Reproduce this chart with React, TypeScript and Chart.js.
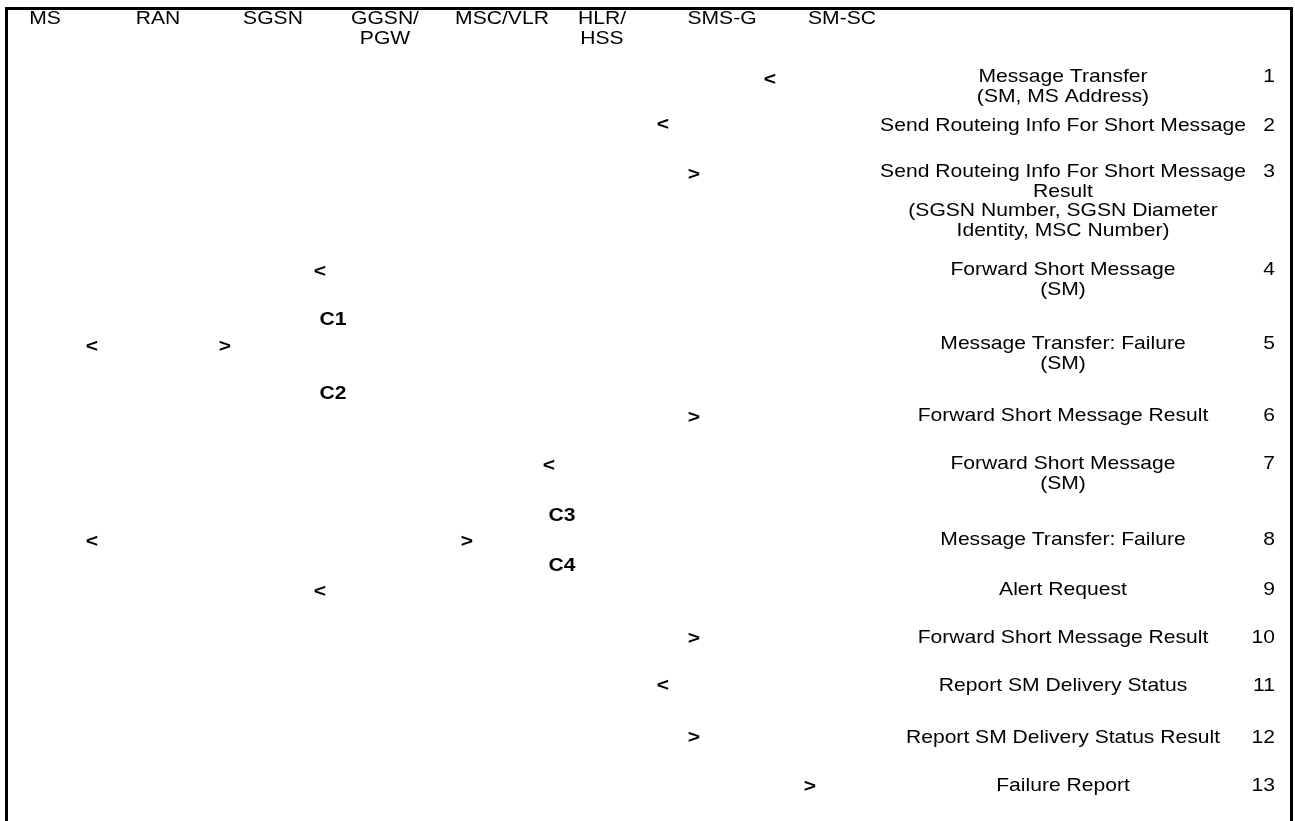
import { useEffect, useRef } from "react";
import { Chart, registerables } from "chart.js";

Chart.register(...registerables);

// Diagram space (units = reference pixels)
const X_MAX = 1295;
const Y_MAX = 821;

// Network entities (header) and their column positions
const entities = ["MS", "RAN", "SGSN", "GGSN/\nPGW", "MSC/VLR", "HLR/\nHSS", "SMS-G", "SM-SC"];
const entityX = [45, 158, 273, 385, 502, 602, 722, 842];
const headerY = 19;

// Message steps
const stepNumbers = ["1", "2", "3", "4", "5", "6", "7", "8", "9", "10", "11", "12", "13"];
const stepY = [77, 126, 172, 270, 344, 416, 464, 540, 590, 638, 686, 738, 786];
const stepMessages = [
  "Message Transfer\n(SM, MS Address)",
  "Send Routeing Info For Short Message",
  "Send Routeing Info For Short Message\nResult\n(SGSN Number, SGSN Diameter\nIdentity, MSC Number)",
  "Forward Short Message\n(SM)",
  "Message Transfer: Failure\n(SM)",
  "Forward Short Message Result",
  "Forward Short Message\n(SM)",
  "Message Transfer: Failure",
  "Alert Request",
  "Forward Short Message Result",
  "Report SM Delivery Status",
  "Report SM Delivery Status Result",
  "Failure Report",
];
const messageX = 1063;
const numberX = 1275;

// Arrow heads
const arrowGlyphs = ["<", "<", ">", "<", "<", ">", ">", "<", "<", ">", "<", ">", "<", ">", ">"];
const arrowX = [770, 663, 694, 320, 92, 225, 694, 549, 92, 467, 320, 694, 663, 694, 810];
const arrowY = [80, 125, 175, 272, 347, 347, 418, 466, 542, 542, 592, 639, 686, 738, 787];

// Conditions
const condLabels = ["C1", "C2", "C3", "C4"];
const condX = [333, 333, 562, 562];
const condY = [320, 394, 516, 566];

// Frame
const frameLeft = 6.5;
const frameTop = 8.5;
const frameRight = 1291.5;

const FONT_FAMILY = "Arial, 'Liberation Sans', Helvetica, sans-serif";
const FONT_SIZE = 18.5;
const STRETCH = 1.14;
const LINE_H = 19.6;

function drawText(ctx: CanvasRenderingContext2D, text: string, x: number, y: number, align: CanvasTextAlign, bold: boolean) {
  const lines = text.split("\n");
  ctx.save();
  ctx.font = `${bold ? "bold " : ""}${FONT_SIZE}px ${FONT_FAMILY}`;
  ctx.fillStyle = "#000";
  ctx.textAlign = align;
  ctx.textBaseline = "middle";
  lines.forEach((ln, i) => {
    ctx.save();
    ctx.translate(x, y + i * LINE_H);
    ctx.scale(STRETCH, 1);
    ctx.fillText(ln, 0, 0);
    ctx.restore();
  });
  ctx.restore();
}

const textPlugin = {
  id: "diagramText",
  beforeDatasetsDraw(chart: any) {
    const { ctx, scales } = chart;
    const xs = scales.x;
    const ys = scales.y;
    ctx.save();
    ctx.strokeStyle = "#000";
    ctx.lineWidth = 3;
    ctx.beginPath();
    ctx.moveTo(xs.getPixelForValue(frameLeft), ys.getPixelForValue(Y_MAX + 5));
    ctx.lineTo(xs.getPixelForValue(frameLeft), ys.getPixelForValue(frameTop));
    ctx.lineTo(xs.getPixelForValue(frameRight), ys.getPixelForValue(frameTop));
    ctx.lineTo(xs.getPixelForValue(frameRight), ys.getPixelForValue(Y_MAX + 5));
    ctx.stroke();
    ctx.restore();
  },
  afterDatasetsDraw(chart: any) {
    const { ctx } = chart;
    chart.data.datasets.forEach((ds: any, di: number) => {
      const meta = chart.getDatasetMeta(di);
      meta.data.forEach((el: any, i: number) => {
        drawText(ctx, ds.labels[i], el.x, el.y, ds.textAlign, ds.bold);
      });
    });
  },
};

export default function App() {
  const ref = useRef<HTMLCanvasElement | null>(null);
  useEffect(() => {
    document.body.style.margin = "0";
    const canvas = ref.current!;
    const chart = new Chart(canvas, {
      type: "scatter",
      data: {
        datasets: [
          {
            label: "Entities",
            data: entities.map((_, i) => ({ x: entityX[i], y: headerY })),
            labels: entities,
            textAlign: "center",
            bold: false,
            pointRadius: 0,
          } as any,
          {
            label: "Messages",
            data: stepMessages.map((_, i) => ({ x: messageX, y: stepY[i] })),
            labels: stepMessages,
            textAlign: "center",
            bold: false,
            pointRadius: 0,
          } as any,
          {
            label: "Step numbers",
            data: stepNumbers.map((_, i) => ({ x: numberX, y: stepY[i] })),
            labels: stepNumbers,
            textAlign: "right",
            bold: false,
            pointRadius: 0,
          } as any,
          {
            label: "Arrows",
            data: arrowX.map((x, i) => ({ x, y: arrowY[i] })),
            labels: arrowGlyphs,
            textAlign: "center",
            bold: true,
            pointRadius: 0,
          } as any,
          {
            label: "Conditions",
            data: condLabels.map((_, i) => ({ x: condX[i], y: condY[i] })),
            labels: condLabels,
            textAlign: "center",
            bold: true,
            pointRadius: 0,
          } as any,
        ],
      },
      options: {
        animation: false,
        responsive: false,
        maintainAspectRatio: false,
        layout: { padding: 0 },
        plugins: { legend: { display: false }, tooltip: { enabled: false } },
        events: [],
        scales: {
          x: { type: "linear", min: 0, max: X_MAX, display: false },
          y: { type: "linear", min: 0, max: Y_MAX, reverse: true, display: false },
        },
      },
      plugins: [textPlugin],
    });
    return () => chart.destroy();
  }, []);
  return (
    <div style={{ width: X_MAX, height: Y_MAX, background: "#fff" }}>
      <canvas ref={ref} width={X_MAX} height={Y_MAX} style={{ display: "block" }} />
    </div>
  );
}
